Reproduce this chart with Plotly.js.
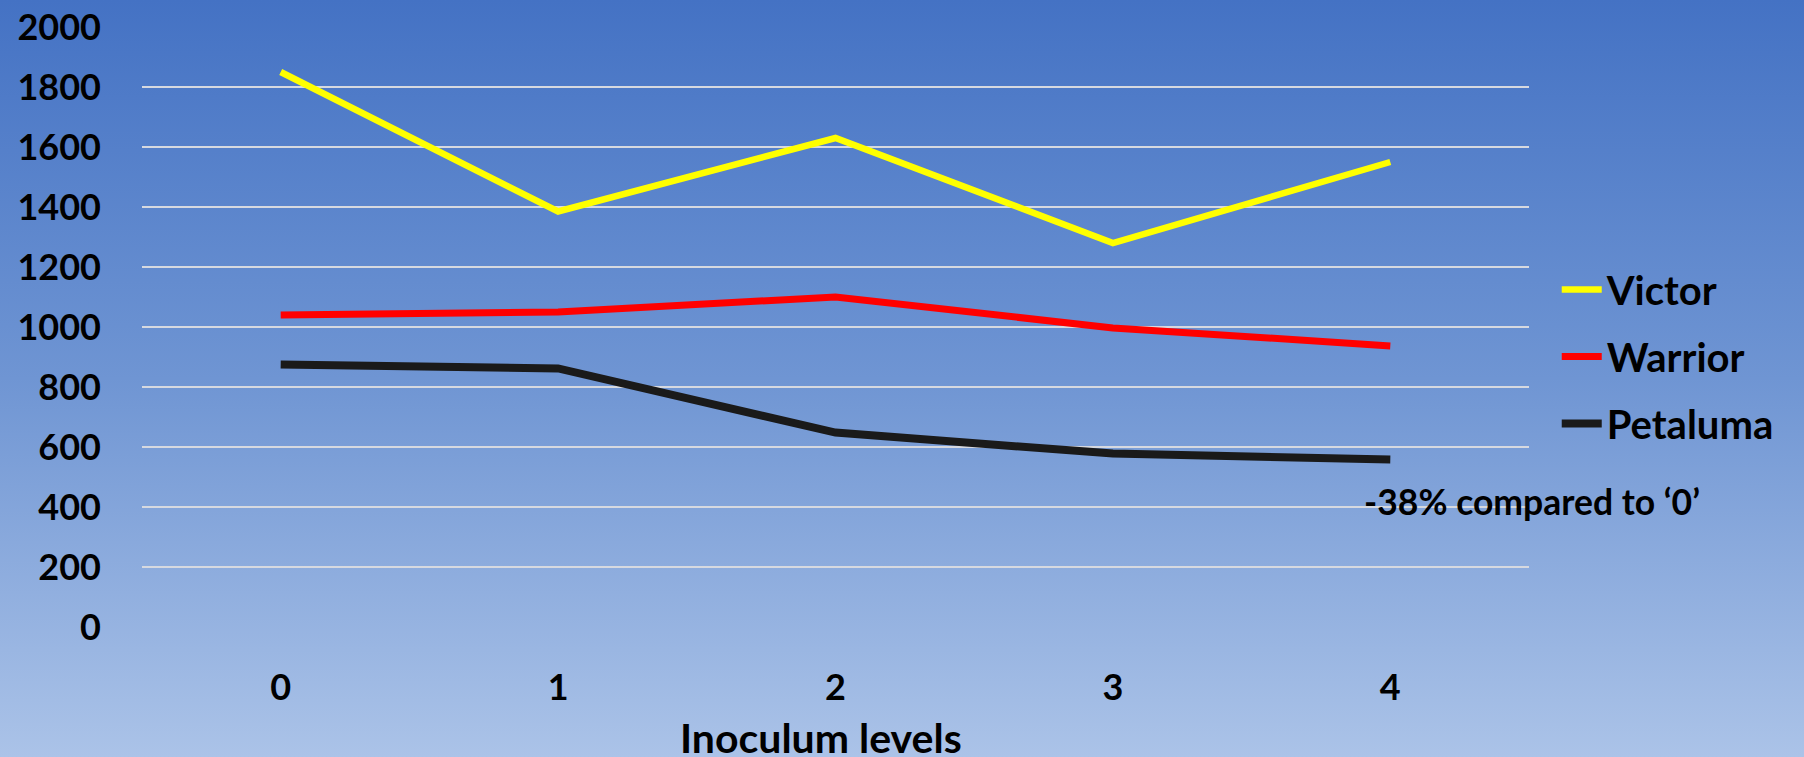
<!DOCTYPE html>
<html>
<head>
<meta charset="utf-8">
<script src="https://cdn.plot.ly/plotly-3.0.1.min.js"></script>
<style>
  html, body { margin: 0; padding: 0; }
  #chart {
    width: 1804px; height: 757px;
    background: linear-gradient(to bottom, #4472c4 0%, #6f95d3 50%, #abc3e8 100%);
  }
</style>
</head>
<body>
<div id="chart"></div>
<script>
// Inoculum levels on the x axis
const levels = ['0', '1', '2', '3', '4'];

// Yield per cultivar at each inoculum level
const victor   = [1850, 1385, 1630, 1280, 1550];
const warrior  = [1040, 1050, 1100, 997, 937];
const petaluma = [875, 862, 648, 578, 558];

const yTicks = [0, 200, 400, 600, 800, 1000, 1200, 1400, 1600, 1800, 2000];

const font = 'Lato, "Open Sans", sans-serif';

const traces = [
  { name: 'Victor',   y: victor,   color: '#ffff00', width: 6.5 },
  { name: 'Warrior',  y: warrior,  color: '#ff0000', width: 7 },
  { name: 'Petaluma', y: petaluma, color: '#1a1a1a', width: 8 }
].map(s => ({
  type: 'scatter',
  mode: 'lines',
  name: s.name,
  legendgroup: s.name,
  x: levels,
  y: s.y,
  line: { color: s.color, width: s.width },
  hoverinfo: 'x+y+name'
}));

const layout = {
  width: 1804,
  height: 757,
  paper_bgcolor: 'rgba(0,0,0,0)',
  plot_bgcolor: 'rgba(0,0,0,0)',
  margin: { l: 141.5, r: 275, t: 26.5, b: 130 },
  font: { family: font, color: '#000000', size: 36, weight: 'bold' },
  showlegend: true,
  legend: {
    x: 1.02, xanchor: 'left',
    y: 0.451, yanchor: 'middle',
    bgcolor: 'rgba(0,0,0,0)',
    font: { family: font, size: 40, color: '#000000', weight: 'bold' },
    itemwidth: 40,
    tracegroupgap: 12
  },
  xaxis: {
    type: 'category',
    range: [-0.5, 4.5],
    showgrid: false,
    zeroline: false,
    showline: false,
    ticks: '',
    ticklabelstandoff: 36,
    tickfont: { family: font, size: 36, weight: 'bold' }
  },
  yaxis: {
    range: [0, 2000],
    tickvals: yTicks,
    ticktext: yTicks.map(String),
    showgrid: true,
    gridcolor: '#d6d9e0',
    gridwidth: 1.7,
    zeroline: false,
    showline: false,
    ticks: '',
    ticklabelstandoff: 40,
    tickfont: { family: font, size: 36, weight: 'bold' }
  },
  annotations: [
    {
      // x axis title, set slightly left of the plot centre
      xref: 'paper', yref: 'paper',
      x: 0.4897, y: -0.184,
      xanchor: 'center', yanchor: 'middle',
      text: 'Inoculum levels',
      showarrow: false,
      font: { family: font, size: 41, color: '#000000', weight: 'bold' }
    },
    {
      xref: 'paper', yref: 'y',
      x: 0.8796, y: 418,
      xanchor: 'left', yanchor: 'middle',
      text: '-38% compared to ‘0’',
      showarrow: false,
      font: { family: font, size: 35.5, color: '#000000', weight: 'bold' }
    }
  ]
};

Plotly.newPlot('chart', traces, layout, { displayModeBar: false, staticPlot: true });
</script>
</body>
</html>
